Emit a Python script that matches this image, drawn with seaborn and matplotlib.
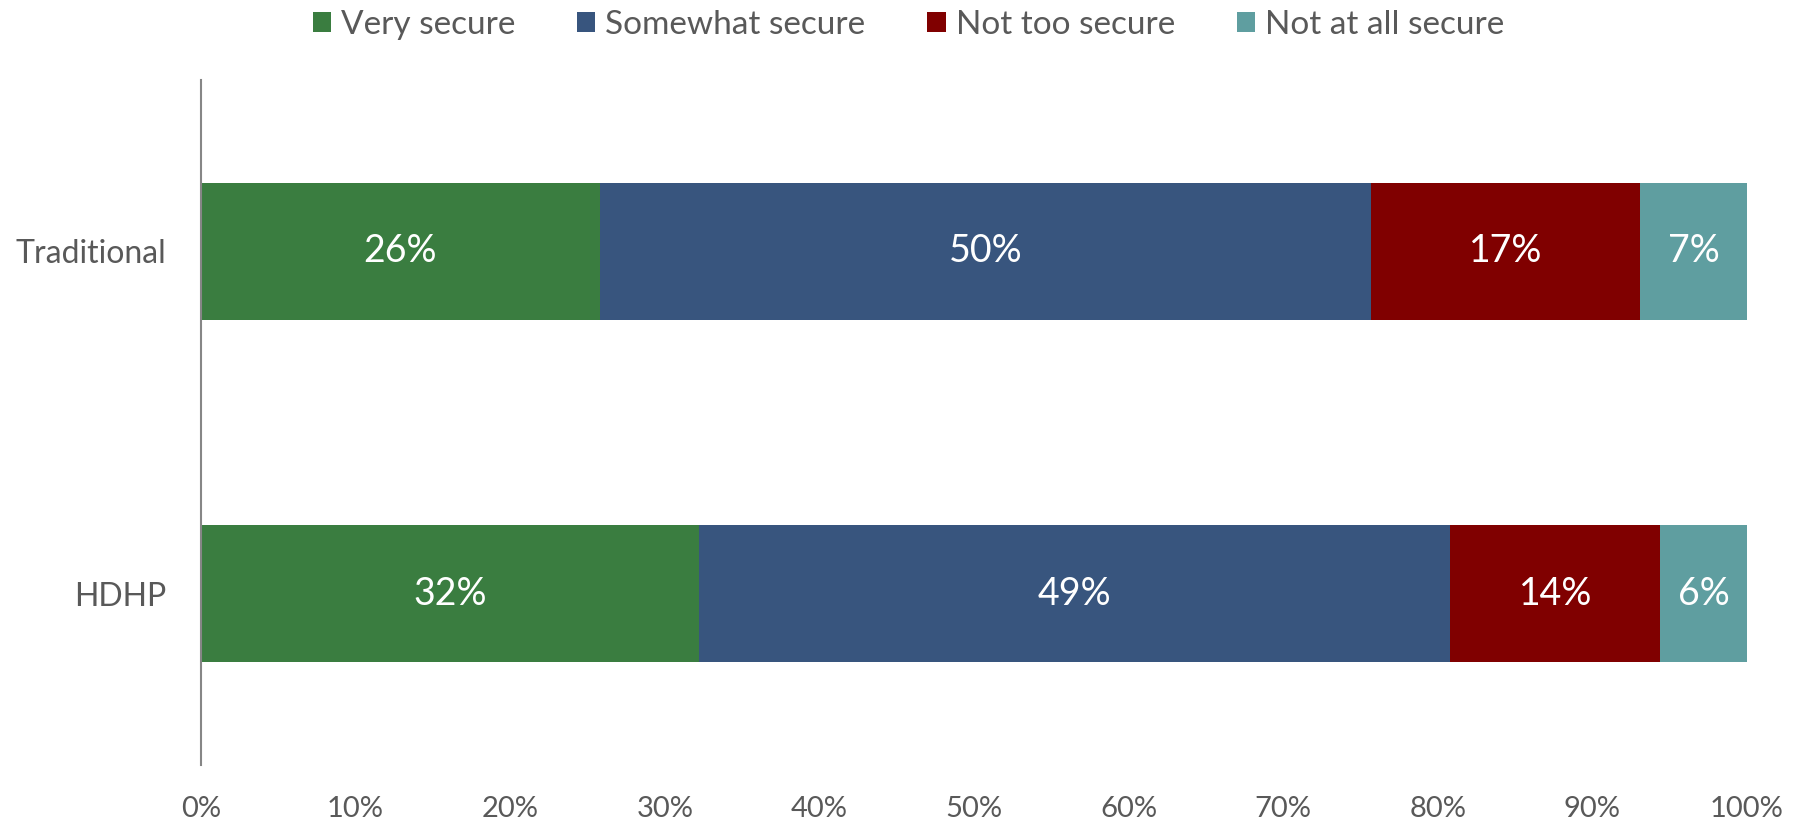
import matplotlib
matplotlib.use("Agg")
import matplotlib.pyplot as plt
from matplotlib.patches import Patch
import seaborn as sns
import numpy as np
import pandas as pd

# Plan types and perceived security shares (percent of respondents)
plans = ["Traditional", "HDHP"]
series_names = ["Very secure", "Somewhat secure", "Not too secure", "Not at all secure"]
very_secure = [25.8, 32.2]
somewhat_secure = [49.9, 48.6]
not_too_secure = [17.4, 13.6]
not_at_all_secure = [6.9, 5.6]
x_ticks = [0, 10, 20, 30, 40, 50, 60, 70, 80, 90, 100]

colors = ["#3a7d40", "#38557e", "#800000", "#5f9ea0"]
text_grey = "#595959"

sns.set_theme(style="white")
plt.rcParams["font.family"] = ["Lato", "DejaVu Sans"]

values = np.array([very_secure, somewhat_secure, not_too_secure, not_at_all_secure])
cumulative = values.cumsum(axis=0)

fig = plt.figure(figsize=(18.06, 8.22), dpi=100)
ax = fig.add_axes([0.1113, 0.0693, 0.8560, 0.8334])

# Stacked bars: draw running totals from the outermost segment inward
for i in range(len(series_names) - 1, -1, -1):
    df = pd.DataFrame({"plan": plans, "value": cumulative[i]})
    sns.barplot(data=df, x="value", y="plan", color=colors[i], width=0.4,
                orient="h", saturation=1, ax=ax, linewidth=0)

# Segment value labels
for i in range(len(series_names)):
    starts = cumulative[i] - values[i]
    for j, plan in enumerate(plans):
        ax.text(starts[j] + values[i][j] / 2, j, f"{values[i][j]:.0f}%",
                ha="center", va="center", color="white", fontsize=27)

ax.set_xlim(0, 100)
ax.set_ylim(1.5, -0.5)
ax.set_xticks(x_ticks)
ax.set_xticklabels([f"{t}%" for t in x_ticks])
ax.set_xlabel("")
ax.set_ylabel("")
ax.tick_params(axis="x", length=0, labelsize=21, labelcolor=text_grey, pad=22)
ax.tick_params(axis="y", length=0, labelsize=23, labelcolor=text_grey, pad=25)

for side in ["top", "right", "bottom"]:
    ax.spines[side].set_visible(False)
ax.spines["left"].set_color("#868686")
ax.spines["left"].set_linewidth(1.5)
ax.grid(False)

handles = [Patch(facecolor=c, edgecolor="none") for c in colors]
leg = fig.legend(handles, series_names, loc="center", bbox_to_anchor=(0.503, 0.97),
                 ncol=4, frameon=False, fontsize=24, handlelength=0.55,
                 handleheight=0.55, handletextpad=0.3, columnspacing=1.85)
for t in leg.get_texts():
    t.set_color(text_grey)

fig.savefig("out.png", dpi=100, facecolor="white")
